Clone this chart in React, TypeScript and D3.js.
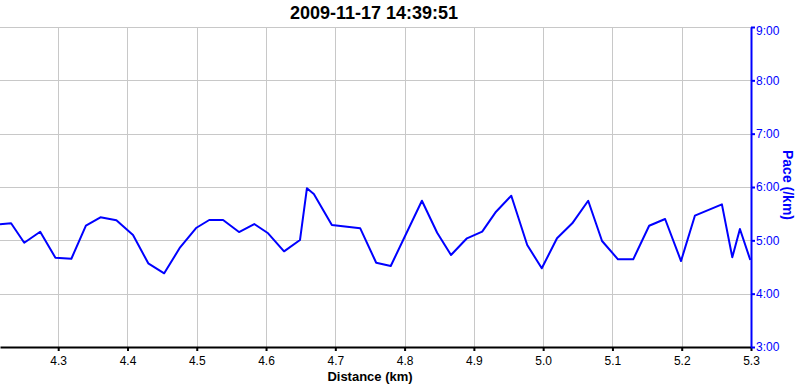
import React, { useEffect, useRef } from "react";
import * as d3 from "d3";

const title = "2009-11-17 14:39:51";
const distance = [
  4.216, 4.232, 4.251, 4.274, 4.296, 4.319, 4.34, 4.361, 4.384, 4.408, 4.43, 4.453, 4.476,
  4.499, 4.518, 4.538, 4.561, 4.583, 4.603, 4.626, 4.649, 4.659, 4.669, 4.695, 4.736, 4.759,
  4.78, 4.825, 4.847, 4.867, 4.89, 4.912, 4.932, 4.954, 4.977, 4.998, 5.02, 5.042, 5.065,
  5.085, 5.108, 5.13, 5.153, 5.176, 5.199, 5.219, 5.258, 5.273, 5.284, 5.299,
];
// pace in minutes per km
const pace = [
  5.3, 5.32, 4.955, 5.16, 4.674, 4.655, 5.274, 5.432, 5.376, 5.1, 4.569, 4.382, 4.869,
  5.231, 5.381, 5.381, 5.156, 5.306, 5.132, 4.794, 5.006, 5.976, 5.869, 5.287, 5.225, 4.58,
  4.519, 5.743, 5.143, 4.725, 5.038, 5.162, 5.537, 5.837, 4.912, 4.476, 5.038, 5.319, 5.743,
  4.987, 4.644, 4.644, 5.274, 5.4, 4.612, 5.462, 5.675, 4.682, 5.212, 4.631,
];
const xTicks = [4.3, 4.4, 4.5, 4.6, 4.7, 4.8, 4.9, 5.0, 5.1, 5.2, 5.3];
const yTicks = [3, 4, 5, 6, 7, 8, 9];

function App() {
  const ref = useRef<SVGSVGElement>(null);

  useEffect(() => {
    const width = 800;
    const height = 386;
    const left = 0, right = 751, top = 27, bottom = 347;
    const font = "Arial, 'Liberation Sans', sans-serif";

    const svg = d3.select(ref.current);
    svg.selectAll("*").remove();

    const x = d3.scaleLinear().domain([4.216, 5.3]).range([left, right]);
    const y = d3.scaleLinear().domain([3, 9]).range([bottom, top]);

    // grid
    svg.append("g")
      .selectAll("line")
      .data(xTicks.slice(0, -1))
      .enter()
      .append("line")
      .attr("x1", d => Math.round(x(d)) + 0.5)
      .attr("x2", d => Math.round(x(d)) + 0.5)
      .attr("y1", top)
      .attr("y2", bottom)
      .attr("stroke", "#c8c8c8");
    svg.append("g")
      .selectAll("line")
      .data(yTicks.slice(1))
      .enter()
      .append("line")
      .attr("x1", left)
      .attr("x2", right)
      .attr("y1", d => Math.round(y(d)) + 0.5)
      .attr("y2", d => Math.round(y(d)) + 0.5)
      .attr("stroke", "#c8c8c8");

    // line
    const line = d3.line<number>()
      .x((_, i) => x(distance[i]))
      .y(d => y(d));
    svg.append("path")
      .datum(pace)
      .attr("d", line)
      .attr("fill", "none")
      .attr("stroke", "#0000ff")
      .attr("stroke-width", 2)
      .attr("stroke-linejoin", "round");

    // bottom axis
    const xAxis = d3.axisBottom(x)
      .tickValues(xTicks)
      .tickFormat(d3.format(".1f"))
      .tickSize(4)
      .tickSizeOuter(0);
    const gx = svg.append("g")
      .attr("transform", `translate(0, ${bottom})`)
      .call(xAxis);
    gx.select(".domain").attr("stroke", "#000").attr("stroke-width", 2);
    gx.selectAll(".tick line").attr("stroke", "#000").attr("stroke-width", 2);
    gx.selectAll(".tick text")
      .attr("font-family", font)
      .attr("font-size", 12)
      .attr("fill", "#000")
      .attr("dy", "0.95em");

    // right axis
    const yAxis = d3.axisRight(y)
      .tickValues(yTicks)
      .tickFormat(d => `${d}:00`)
      .tickSize(4)
      .tickSizeOuter(0);
    const gy = svg.append("g")
      .attr("transform", `translate(${right}, 0)`)
      .call(yAxis);
    gy.select(".domain").attr("stroke", "#0000ff").attr("stroke-width", 2);
    gy.selectAll(".tick line").attr("stroke", "#0000ff").attr("stroke-width", 2);
    gy.selectAll<SVGTextElement, number>(".tick text")
      .attr("font-family", font)
      .attr("font-size", 12)
      .attr("fill", "#0000ff")
      .attr("x", 5)
      .attr("y", d => (d === 9 ? 4 : 0));

    // titles
    svg.append("text")
      .attr("x", 374)
      .attr("y", 19)
      .attr("text-anchor", "middle")
      .attr("font-family", font)
      .attr("font-size", 18)
      .attr("font-weight", "bold")
      .text(title);
    svg.append("text")
      .attr("x", 370)
      .attr("y", 381)
      .attr("text-anchor", "middle")
      .attr("font-family", font)
      .attr("font-size", 13)
      .attr("font-weight", "bold")
      .text("Distance (km)");
    svg.append("text")
      .attr("transform", `translate(783, 185) rotate(90)`)
      .attr("text-anchor", "middle")
      .attr("font-family", font)
      .attr("font-size", 14)
      .attr("font-weight", "bold")
      .attr("fill", "#0000ff")
      .text("Pace (/km)");

    svg.attr("width", width).attr("height", height);
  }, []);

  return (
    <svg
      ref={ref}
      width={800}
      height={386}
      style={{ position: "absolute", left: 0, top: 0, background: "#fff" }}
    />
  );
}

export default App;
